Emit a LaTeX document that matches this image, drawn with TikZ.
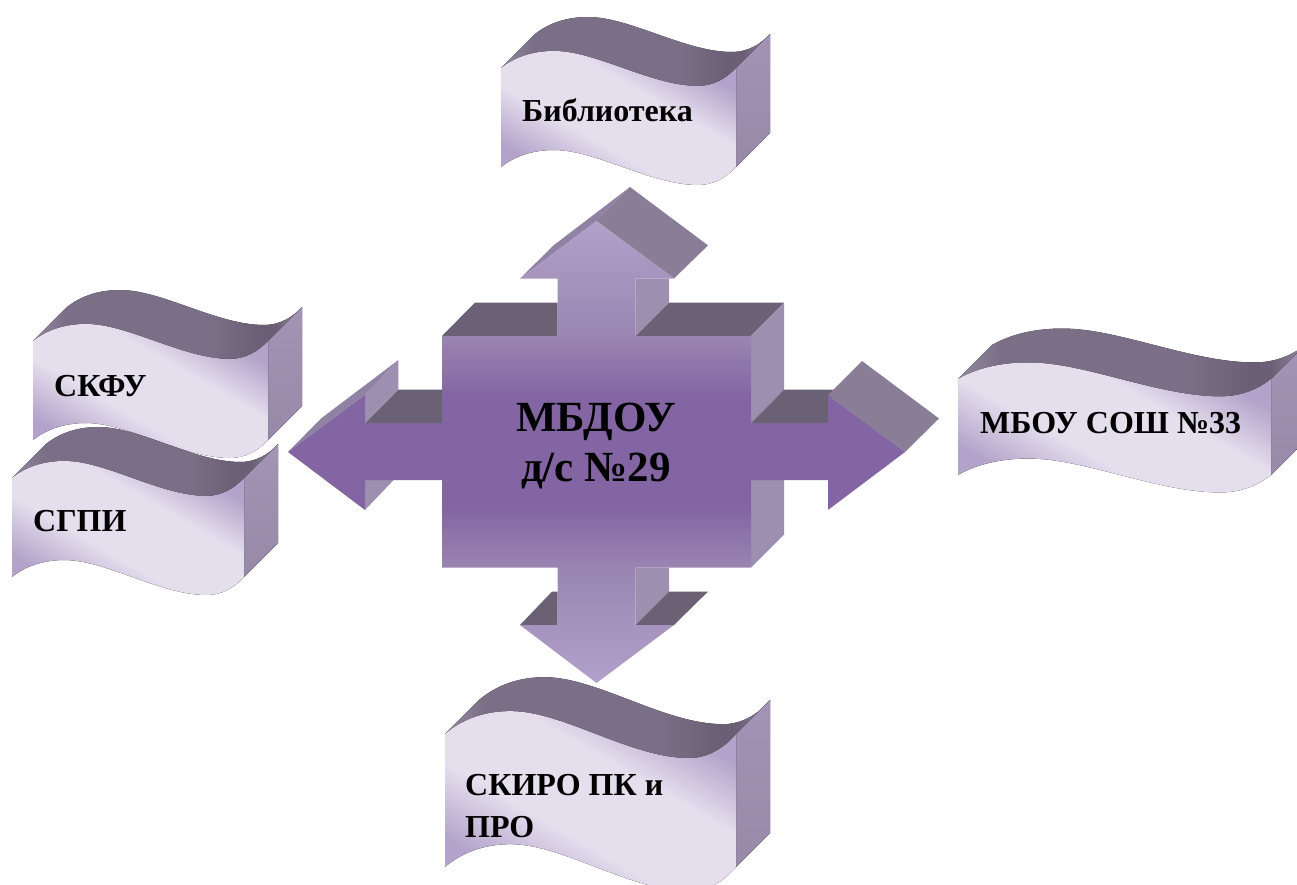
\documentclass[tikz,border=0pt]{standalone}
\usepackage{fontspec}
\setmainfont{Liberation Serif}
\definecolor{faceTop}{HTML}{6B6175}
\definecolor{faceSide}{HTML}{9D8FAF}
\definecolor{faceHead}{HTML}{8A7D96}
\definecolor{faceHeadB}{HTML}{8F82A2}
\definecolor{cb}{HTML}{B1A1C9}
\definecolor{cm}{HTML}{9A85B2}
\definecolor{cn}{HTML}{8265A2}
\definecolor{wc}{HTML}{B3A3CA}
\definecolor{wl}{HTML}{E4DEED}
\definecolor{t0}{HTML}{94899F}
\definecolor{t1}{HTML}{7B6F87}
\definecolor{t2}{HTML}{6A5F74}
\definecolor{s0}{HTML}{A394B5}
\definecolor{s1}{HTML}{9889A9}
\pgfdeclareverticalshading{crossfill}{100bp}{
 color(0bp)=(cb); color(25bp)=(cb); color(37.5bp)=(cm); color(44bp)=(cn); color(56bp)=(cn); color(62.5bp)=(cm); color(75bp)=(cb); color(100bp)=(cb)}
\pgfdeclarehorizontalshading{wavefill}{100bp}{
 color(0bp)=(wc); color(26bp)=(wc); color(41bp)=(wl); color(60bp)=(wl); color(74bp)=(wc); color(100bp)=(wc)}
\pgfdeclarehorizontalshading{wavetop}{100bp}{
 color(0bp)=(t0); color(25bp)=(t0); color(31bp)=(t1); color(58bp)=(t1); color(67bp)=(t2); color(70bp)=(t2); color(75bp)=(t0); color(100bp)=(t0)}
\tikzset{
 x=1pt,y=-1pt,
 labeltext/.style={anchor=base west,inner sep=0pt,font=\fontsize{32}{32}\selectfont\bfseries,text=black},
 maintext/.style={anchor=base,inner sep=0pt,font=\fontsize{43}{43}\selectfont\bfseries,text=black},
 roof/.style={fill=faceTop},
 wall/.style={fill=faceSide},
 headside/.style={fill=faceHead},
 headsideb/.style={fill=faceHeadB},
 frontface/.style={shading=wavefill,shading angle=60},
 topface/.style={shading=wavetop},
 sideface/.style={top color=s0,bottom color=s1},
}
% #1 x, #2 y, #3 w, #4 h ; unit wave 235 wide, face 99 high; depth kept at 34 px
\newcommand{\wavebox}[4]{%
 \pgfmathsetmacro{\wdx}{34*235/#3}%
 \pgfmathsetmacro{\wdy}{34*99/#4}%
 \begin{scope}[shift={(#1,#2)},xscale=#3/235,yscale=#4/99]
  \fill[topface] (0,0) .. controls (14,-11) and (32,-17) .. (53,-17) .. controls (95,-17) and (150,18) .. (197,18) .. controls (212,18) and (225,11) .. (235,0)
    -- ({235+\wdx},{0-\wdy}) .. controls ({225+\wdx},{11-\wdy}) and ({212+\wdx},{18-\wdy}) .. ({197+\wdx},{18-\wdy})
    .. controls ({150+\wdx},{18-\wdy}) and ({95+\wdx},{-17-\wdy}) .. ({53+\wdx},{-17-\wdy})
    .. controls ({32+\wdx},{-17-\wdy}) and ({14+\wdx},{-11-\wdy}) .. ({\wdx},{-\wdy}) -- cycle;
  \fill[sideface] (235,0) -- ({235+\wdx},{0-\wdy}) -- ({235+\wdx},{99-\wdy}) -- (235,99) -- cycle;
  \fill[frontface] (0,0) .. controls (14,-11) and (32,-17) .. (53,-17) .. controls (95,-17) and (150,18) .. (197,18) .. controls (212,18) and (225,11) .. (235,0)
    -- (235,99) .. controls (225,110) and (212,117) .. (197,117) .. controls (150,117) and (95,82) .. (53,82) .. controls (32,82) and (14,88) .. (0,99) -- cycle;
 \end{scope}}
\begin{document}
\begin{tikzpicture}
\clip (0,0) rectangle (1297,885);
% wave boxes
\wavebox{501}{68}{235}{99}
\wavebox{33}{341}{235}{99}
\wavebox{12}{478}{232}{99}
\wavebox{958}{379}{313}{96}
\wavebox{445}{734}{291}{133}
% cross: back faces
\fill[roof] (442,336) -- (475,302.5) -- (557.5,302.5) -- (557.5,336) -- cycle;
\fill[roof] (635.6,336) -- (669,302.5) -- (784,302.5) -- (751,336) -- cycle;
\fill[wall] (751,336) -- (784,302.5) -- (784,389.7) -- (751,423) -- cycle;
\fill[wall] (751,480) -- (784,480) -- (784,534.5) -- (751,567.5) -- cycle;
\fill[wall] (635.6,278.5) -- (669,278.5) -- (669,302.5) -- (635.6,336) -- cycle;
\fill[wall] (635.6,567.5) -- (669,567.5) -- (669,591.6) -- (635.6,625) -- cycle;
\fill[roof] (635.6,625) -- (669,591.6) -- (708,591.6) -- (674,625) -- cycle;
\fill[roof] (520,625) -- (552,591.6) -- (557.5,591.6) -- (557.5,625) -- cycle;
\fill[roof] (751,423) -- (784,389.7) -- (833,389.7) -- (828,423) -- cycle;
\fill[roof] (365,423) -- (398,389.7) -- (442,389.7) -- (442,423) -- cycle;
\fill[wall] (365,395) -- (398.4,360) -- (398.4,389.7) -- (365,423) -- cycle;
\fill[wall] (365,480) -- (393.6,480) -- (365,510) -- cycle;
\fill[headsideb] (288,452) -- (321,418.5) -- (398.4,360) -- (365,395) -- cycle;
\fill[headsideb] (520,278.5) -- (554,245) -- (630,187) -- (596.5,221) -- cycle;
\fill[headside] (596.5,221) -- (630,187) -- (708,245.4) -- (674,278.5) -- cycle;
\fill[headside] (828,395) -- (862,361) -- (939,418.5) -- (905,452) -- cycle;
% cross: front
\shade[shading=crossfill] (596.5,221) -- (674,278.5) -- (635.6,278.5) -- (635.6,336) -- (751,336) -- (751,423)
 -- (828,423) -- (828,395) -- (905,452) -- (828,510) -- (828,480) -- (751,480) -- (751,567.5) -- (635.6,567.5)
 -- (635.6,625) -- (674,625) -- (596.5,683) -- (520,625) -- (557.5,625) -- (557.5,567.5) -- (442,567.5) -- (442,480)
 -- (365,480) -- (365,510) -- (288,452) -- (365,395) -- (365,423) -- (442,423) -- (442,336) -- (557.5,336)
 -- (557.5,278.5) -- (520,278.5) -- cycle;
% labels
\node[labeltext] (lib) at (522,122) {Библиотека};
\node[labeltext] (skfu) at (54,396) {СКФУ};
\node[labeltext] (sgpi) at (33,531) {СГПИ};
\node[labeltext] (mbou) at (980,433) {МБОУ СОШ №33};
\node[labeltext] (skiro) at (465,795) {СКИРО ПК и};
\node[labeltext] (pro) at (465,837) {ПРО};
\node[maintext] (main1) at (596,431) {МБДОУ};
\node[maintext] (main2) at (596,481) {д/с №29};
\end{tikzpicture}
\end{document}
